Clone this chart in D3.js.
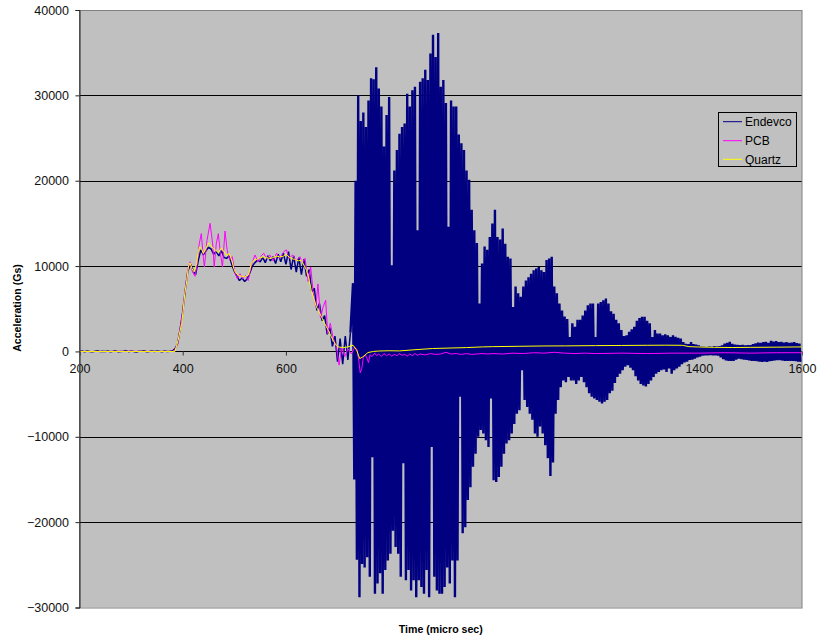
<!DOCTYPE html>
<html>
<head>
<meta charset="utf-8">
<script src="https://cdn.jsdelivr.net/npm/d3@7"></script>
<style>
  html, body { margin: 0; padding: 0; background: #fff; }
  svg { display: block; font-family: "Liberation Sans", Arial, sans-serif; }
</style>
</head>
<body>
<svg id="chart" width="817" height="638"></svg>
<script>
// ---- Tick labels ----
const xTicks = [200, 400, 600, 800, 1000, 1200, 1400, 1600];
const yTicks = [-30000, -20000, -10000, 0, 10000, 20000, 30000, 40000];

// ---- Series names / colours ----
const seriesNames = ["Endevco", "PCB", "Quartz"];
const seriesColors = ["#000080", "#FF00FF", "#FFFF00"];

// ---- Endevco: pre-burst record, one sample every 5 µs from 200 to 725 µs ----
const endevcoEarlyStart = 200, endevcoEarlyStep = 5;
const endevcoEarly = [
  0, 40, -30, 60, 0, -50, 30, 80, -20, 20, 0, 50, -40, 10, 70, -40, 0, 30, 100, -30,
  50, 0, -60, 30, 20, 80, -30, 0, 40, -20, 60, 10, -30, 50, 0, 30, 80,
  300, 900, 2600, 4600, 7200, 9400, 10200, 9500, 9000, 10600,
  11900, 11300, 11800, 12200, 12000, 11400, 11700, 11200, 11800, 11000,
  10900, 11200, 10200, 9400, 8800, 8300, 8600, 8200, 8500, 9200,
  10000, 10400, 10700, 10500, 11000, 10400, 11200, 10600, 11100, 10300,
  11400, 10500, 11500, 10200, 11700, 9600, 11200, 9300, 11000, 9000,
  10800, 8800, 9600, 7000, 7400, 4800, 5600, 3600, 4200, 2000,
  2800, 600, 1800, -1200, 1500, -1500, 1800, -1000, 2200
];

// ---- Endevco ringing: positive peaks at 730 + 5k µs, negative peaks 2.5 µs later ----
const endevcoBurstStart = 730, endevcoBurstStep = 5;
const endevcoPeaks = [
  8000, 20000, 30000, 27000, 28000, 26300, 29400, 32000, 31900, 33300,
  30800, 28700, 24000, 27700, 29800, 10100, 21200, 23600, 25500, 26300,
  26700, 30200, 28700, 30600, 31000, 14200, 31600, 32000, 33000, 31800,
  34900, 37100, 34500, 37300, 31000, 31800, 29100, 14600, 29400, 28700,
  28700, 25400, 24400, 23600, 21200, 20100, 16600, 14200, 12700, 5600,
  10300, 12300, 11900, 13400, 15000, 16600, 13400, 13100, 14400, 12600,
  11100, 10900, 5200, 7600, 6800, 6400, 7600, 8300, 8700, 9100,
  9500, 9700, 9900, 9500, 9300, 10700, 10900, 11100, 7600, 6800,
  5600, 4800, 4100, 3800, 1700, 3300, 2900, 3700, 3700, 4200,
  4800, 5400, 5600, 5600, 1700, 5600, 5800, 6000, 6200, 5600,
  4700, 4400, 3700, 3300, 2500, 1800, 1900, 2300, 2600, 2900,
  3600, 3900, 4050, 4050, 3600, 3300, 1700, 2500, 2100, 2100,
  1900, 2000, 1900, 1700, 1900, 1700, 1600, 1500, 1100, 900,
  850, 1100, 850, 800, 700, 600, 550, 530, 600, 550,
  620, 580, 610, 700, 920, 1000, 1120, 900, 800, 760,
  730, 760, 700, 740, 730, 850, 950, 1040, 1000, 1100,
  1120, 1000, 1240, 1150, 1200, 1100, 1120, 1050, 1100, 1000,
  1040, 1100, 980, 920
];
const endevcoTroughs = [
  -15000, -24400, -28800, -24900, -25300, -24100, -26400, -12400, -28400, -27200,
  -26000, -28400, -25600, -24500, -23700, -21000, -22900, -23700, -26400, -13100,
  -26800, -25600, -28000, -26800, -28800, -26800, -27600, -28400, -25600, -28800,
  -11200, -26400, -28000, -28400, -28400, -27600, -25300, -27200, -24500, -28800,
  -24500, -5300, -21300, -20600, -17400, -15900, -13500, -12000, -10000, -9200,
  -9600, -10400, -11200, -5500, -15100, -15300, -14700, -13500, -12000, -10800,
  -10400, -9600, -8500, -7300, -6900, -2200, -5700, -6500, -7300, -8000,
  -9600, -10000, -8800, -9600, -11000, -12500, -14600, -13000, -7300, -5700,
  -4200, -3400, -3600, -3000, -3400, -3400, -3800, -3400, -3000, -3600,
  -4200, -4900, -5300, -5500, -5700, -5900, -6100, -5900, -5700, -4900,
  -4600, -3700, -3000, -2600, -2200, -1800, -1600, -1900, -2200, -2900,
  -3400, -3800, -4000, -4100, -3800, -3400, -3000, -2600, -2400, -2200,
  -2100, -2400, -2000, -2600, -2200, -2000, -1800, -1500, -1300, -1200,
  -1000, -950, -850, -700, -600, -500, -450, -460, -420, -450,
  -460, -500, -700, -900, -1050, -1100, -1120, -1100, -950, -840,
  -900, -950, -1000, -1050, -1100, -1120, -1150, -1200, -1230, -1200,
  -1230, -1150, -1100, -1050, -1030, -1030, -1080, -1100, -1120, -1100,
  -1110, -1150, -1200, -1230
];

// ---- PCB ----
const pcbTime = [
  200, 250, 300, 350, 380, 385, 390, 395, 400, 405, 410, 414, 419, 424, 428,
  432, 436, 440, 442, 447, 453, 458, 461, 465, 469, 473, 477, 482, 486, 491,
  496, 501, 506, 511, 516, 522, 527, 533, 540, 546, 552, 557, 562, 569, 575,
  582, 588, 596, 601, 606, 613, 620, 627, 632, 637, 643, 648, 653, 658, 662,
  667, 672, 677, 681, 686, 691, 698, 703, 708, 714, 720, 727, 733, 738, 741,
  744, 747, 750, 754, 757, 760, 763, 767, 772, 776, 780, 785, 790, 795, 800,
  805, 810, 815, 820, 825, 830, 835, 840, 845, 850, 855, 860, 870, 880, 890,
  900, 910, 920, 930, 940, 950, 960, 970, 980, 990, 1000, 1020, 1040, 1060, 1080,
  1100, 1120, 1140, 1160, 1180, 1200, 1250, 1300, 1350, 1400, 1450, 1500, 1550, 1600
];
const pcbValues = [
  0, 0, 20, 0, 0, 200, 900, 2600, 4700, 7200, 9700, 10500, 9300, 8800, 10200,
  12600, 13800, 11000, 9900, 13000, 15000, 12600, 9900, 12600, 13800, 11500, 9900, 14100, 11900, 10700,
  11100, 9300, 8500, 9100, 8500, 8900, 8300, 10100, 11300, 10500, 11200, 11500, 10900, 11300, 10600,
  11500, 10900, 11700, 11900, 10900, 11300, 10600, 11100, 10400, 10900, 8200, 9900, 6800, 5200, 7900,
  3900, 5200, 6000, 2100, 3300, 1700, 500, -1600, 500, -600, 300, -300, 500, 200, -1000,
  -2500, -2000, -700, -400, -800, -1300, -400, -600, -200, -500, -300, -600, -250, -500, -300,
  -550, -350, -500, -250, -450, -350, -550, -300, -500, -250, -450, -300, -400, -250, -350,
  -300, -100, -300, -250, -350, -250, -350, -300, -250, -300, -250, -300, -200, -250, -150,
  -200, -100, -200, -250, -200, -250, -200, -250, -200, -200, -150, -200, -150, -150
];

// ---- Quartz ----
const quartzTime = [
  200, 300, 385, 391, 398, 401, 404, 408, 411, 414, 418, 422, 427, 430, 433,
  437, 440, 445, 450, 454, 459, 464, 469, 475, 480, 485, 490, 495, 499, 503,
  508, 514, 520, 527, 530, 533, 538, 543, 550, 556, 562, 569, 575, 582, 588,
  595, 600, 604, 611, 617, 624, 630, 635, 640, 645, 649, 654, 659, 664, 669,
  675, 682, 688, 695, 701, 711, 720, 730, 737, 743, 749, 759, 770, 780, 800,
  820, 850, 884, 920, 950, 981, 1000, 1050, 1100, 1142, 1200, 1250, 1300, 1336, 1368,
  1381, 1400, 1430, 1465, 1500, 1550, 1600
];
const quartzValues = [
  0, 0, 0, 1300, 3270, 4830, 6780, 8340, 9900, 10380, 9710, 9320, 10300, 11660, 12250,
  11940, 11470, 12050, 12720, 12450, 12050, 11860, 11550, 12130, 11660, 11270, 11470, 10690, 9710, 9200,
  8930, 8800, 8740, 8930, 9520, 10300, 10690, 10770, 11000, 11080, 11000, 10880, 11000, 11160, 11080,
  11160, 11390, 11160, 10880, 10770, 10610, 10690, 10100, 9520, 8340, 7170, 6200, 5220, 4630, 4050,
  3270, 2480, 1700, 920, 530, 450, 530, 730, 140, -840, -640, -130, 0, 50, 80,
  60, 200, 340, 400, 450, 530, 560, 600, 640, 650, 680, 700, 720, 730, 720,
  560, 520, 480, 460, 480, 500, 530
];

// ---- Build point lists ----
const endevcoPre = endevcoEarly.map((v, i) => ({ t: endevcoEarlyStart + i * endevcoEarlyStep, v }));
const endevcoRing = [endevcoPre[endevcoPre.length - 1]];
endevcoPeaks.forEach((p, i) => {
  const t = endevcoBurstStart + i * endevcoBurstStep;
  endevcoRing.push({ t, v: p });
  if (i < endevcoTroughs.length) endevcoRing.push({ t: t + endevcoBurstStep / 2, v: endevcoTroughs[i] });
});
const pcb = pcbTime.map((t, i) => ({ t, v: pcbValues[i] }));
const quartz = quartzTime.map((t, i) => ({ t, v: quartzValues[i] }));

// ---- Layout ----
const svg = d3.select("#chart");
const plot = { left: 79.5, right: 802, top: 10, bottom: 607.5 };
const x = d3.scaleLinear().domain([200, 1600]).range([plot.left, plot.right]);
const y = d3.scaleLinear().domain([-30000, 40000]).range([plot.bottom, plot.top]);
const px = v => Math.round(v) + 0.5;

// plot background
svg.append("rect")
  .attr("x", plot.left).attr("y", plot.top)
  .attr("width", plot.right - plot.left).attr("height", plot.bottom - plot.top)
  .attr("fill", "#C0C0C0");

// horizontal gridlines
svg.append("g")
  .selectAll("line")
  .data(yTicks.filter(d => d > -30000 && d < 40000))
  .join("line")
  .attr("x1", plot.left).attr("x2", plot.right)
  .attr("y1", d => px(y(d))).attr("y2", d => px(y(d)))
  .attr("stroke", "#000").attr("stroke-width", 1)
  .attr("shape-rendering", "crispEdges");

// x axis ticks sit on the zero line
const xAxis = svg.append("g")
  .attr("transform", `translate(0,${px(y(0))})`)
  .call(d3.axisBottom(x).tickValues(xTicks).tickSize(4).tickPadding(9).tickFormat(d3.format("d")));
xAxis.select(".domain").remove();
xAxis.selectAll(".tick line").attr("stroke", "#333");
xAxis.selectAll("text").attr("font-size", "12.5px").attr("fill", "#111")
  .attr("font-family", "Liberation Sans, Arial, sans-serif");

// data series
svg.append("clipPath").attr("id", "plotClip")
  .append("rect")
  .attr("x", plot.left).attr("y", plot.top)
  .attr("width", plot.right - plot.left).attr("height", plot.bottom - plot.top);

const line = d3.line().x(d => x(d.t)).y(d => y(d.v));
const layers = [
  { pts: endevcoPre, color: seriesColors[0], w: 1.5 },
  { pts: endevcoRing, color: seriesColors[0], w: 2.4 },
  { pts: pcb, color: seriesColors[1], w: 1 },
  { pts: quartz, color: seriesColors[2], w: 1 }
];
svg.append("g").attr("clip-path", "url(#plotClip)")
  .selectAll("path")
  .data(layers)
  .join("path")
  .attr("d", d => line(d.pts))
  .attr("fill", "none")
  .attr("stroke", d => d.color)
  .attr("stroke-width", d => d.w)
  .attr("stroke-linejoin", "bevel");

// plot frame
svg.append("rect")
  .attr("x", plot.left).attr("y", plot.top + 0.5)
  .attr("width", plot.right - plot.left).attr("height", plot.bottom - plot.top)
  .attr("fill", "none").attr("stroke", "#808080").attr("stroke-width", 1);

// y axis
const yAxis = svg.append("g")
  .attr("transform", `translate(${plot.left},0)`)
  .call(d3.axisLeft(y).tickValues(yTicks).tickSize(4).tickPadding(6.5).tickFormat(d3.format("d")));
yAxis.select(".domain").attr("stroke", "#222");
yAxis.selectAll(".tick line").attr("stroke", "#222");
yAxis.selectAll("text").attr("font-size", "12.5px").attr("fill", "#111")
  .attr("font-family", "Liberation Sans, Arial, sans-serif");

// axis titles
svg.append("text")
  .attr("transform", "translate(20.5,308) rotate(-90)")
  .attr("text-anchor", "middle")
  .attr("font-size", "10.6px").attr("font-weight", "bold")
  .text("Acceleration (Gs)");
svg.append("text")
  .attr("x", (plot.left + plot.right) / 2).attr("y", 632.5)
  .attr("text-anchor", "middle")
  .attr("font-size", "10.6px").attr("font-weight", "bold")
  .text("Time (micro sec)");

// legend
const legend = svg.append("g");
legend.append("rect")
  .attr("x", 718.5).attr("y", 112.5).attr("width", 78).attr("height", 54)
  .attr("fill", "#C0C0C0").attr("stroke", "#000").attr("stroke-width", 1);
const rowY = [121.7, 140.7, 159.3];
seriesNames.forEach((name, i) => {
  legend.append("line")
    .attr("x1", 723).attr("x2", 742)
    .attr("y1", rowY[i]).attr("y2", rowY[i])
    .attr("stroke", seriesColors[i]).attr("stroke-width", 1);
  legend.append("text")
    .attr("x", 745).attr("y", rowY[i] + 4.3)
    .attr("font-size", "12px").attr("fill", "#000")
    .text(name);
});
</script>
</body>
</html>
